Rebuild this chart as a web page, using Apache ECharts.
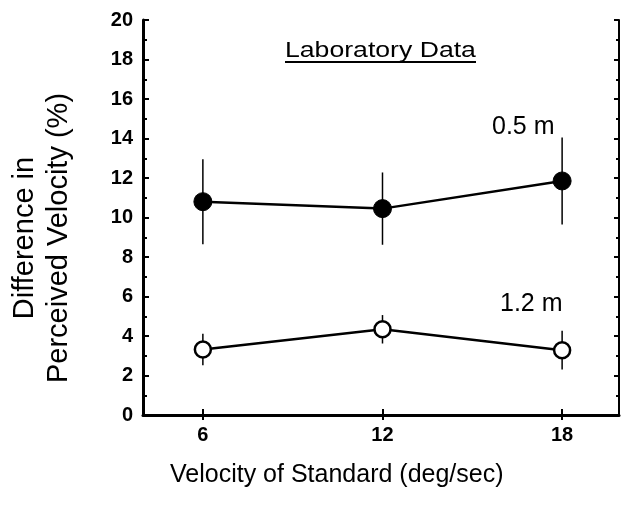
<!DOCTYPE html>
<html>
<head>
<meta charset="utf-8">
<script src="https://cdn.jsdelivr.net/npm/echarts@6/dist/echarts.min.js"></script>
<style>
    html, body { margin: 0; padding: 0; background: #fff; }
    #main { width: 621px; height: 506px; }
</style>
</head>
<body>
<div id="main"></div>
<script>
// values
const velocities = [6, 12, 18]
const near05 = [10.8, 10.45, 11.85]
const near05Err = [2.15, 1.83, 2.2]
const far12 = [3.32, 4.34, 3.28]
const far12Err = [0.8, 0.72, 0.98]
const xTicks = [6, 12, 18]

const font = 'Liberation Sans, Arial, sans-serif'

function pairs(xs, ys) {
    return xs.map((x, i) => [x, ys[i]])
}
function errRows(xs, ys, es) {
    return xs.map((x, i) => [x, ys[i] - es[i], ys[i] + es[i]])
}

function errorBars(rows) {
    return {
        type: 'custom',
        xAxisIndex: 0,
        yAxisIndex: 0,
        z: 1,
        silent: true,
        data: rows,
        renderItem: function (params, api) {
            const lo = api.coord([api.value(0), api.value(1)])
            const hi = api.coord([api.value(0), api.value(2)])
            return {
                type: 'line',
                shape: { x1: lo[0], y1: lo[1], x2: hi[0], y2: hi[1] },
                style: { stroke: '#000', lineWidth: 1.5 }
            }
        }
    }
}

let myChart = echarts.init(document.getElementById('main'))
let option = {
    animation: false,
    backgroundColor: '#fff',
    grid: { left: 143, top: 20, right: 2, bottom: 91 },
    xAxis: [
        {
            type: 'value',
            min: 4,
            max: 19.9,
            axisLine: { lineStyle: { color: '#000', width: 3 } },
            axisTick: { show: true, inside: true, length: 6, customValues: xTicks, lineStyle: { color: '#000', width: 2 } },
            axisLabel: { customValues: xTicks, margin: 10, color: '#000', fontSize: 20, fontWeight: 'bold', fontFamily: font },
            splitLine: { show: false }
        },
        {
            type: 'value',
            position: 'top',
            min: 4,
            max: 19.9,
            axisLine: { show: true, lineStyle: { color: '#000', width: 2 } },
            axisTick: { show: true, inside: true, length: 5, customValues: xTicks, lineStyle: { color: '#000', width: 2 } },
            axisLabel: { show: false },
            splitLine: { show: false }
        }
    ],
    yAxis: [
        {
            type: 'value',
            min: 0,
            max: 20,
            interval: 2,
            axisLine: { show: true, lineStyle: { color: '#000', width: 3 } },
            axisTick: { show: true, inside: true, length: 6, lineStyle: { color: '#000', width: 2 } },
            minorTick: { show: true, splitNumber: 2, length: 4, lineStyle: { color: '#000', width: 2 } },
            axisLabel: { margin: 10, color: '#000', fontSize: 20, fontWeight: 'bold', fontFamily: font },
            splitLine: { show: false }
        },
        {
            type: 'value',
            position: 'right',
            min: 0,
            max: 20,
            interval: 2,
            axisLine: { show: true, lineStyle: { color: '#000', width: 2 } },
            axisTick: { show: true, inside: true, length: 5, lineStyle: { color: '#000', width: 2 } },
            minorTick: { show: true, splitNumber: 2, length: 3, lineStyle: { color: '#000', width: 2 } },
            axisLabel: { show: false },
            splitLine: { show: false }
        }
    ],
    series: [
        errorBars(errRows(velocities, near05, near05Err)),
        errorBars(errRows(velocities, far12, far12Err)),
        {
            name: '0.5 m',
            type: 'line',
            z: 3,
            data: pairs(velocities, near05),
            symbol: 'circle',
            symbolSize: 18,
            lineStyle: { color: '#000', width: 2.5 },
            itemStyle: { color: '#000', borderColor: '#000', borderWidth: 1 }
        },
        {
            name: '1.2 m',
            type: 'line',
            z: 3,
            data: pairs(velocities, far12),
            symbol: 'circle',
            symbolSize: 16,
            lineStyle: { color: '#000', width: 2.5 },
            itemStyle: { color: '#fff', borderColor: '#000', borderWidth: 2.5 }
        }
    ],
    graphic: [
        {
            type: 'text',
            x: 285,
            y: 40,
            scaleX: 1.21,
            style: { text: 'Laboratory Data', fill: '#000', font: '22px ' + font }
        },
        {
            type: 'line',
            shape: { x1: 285, y1: 62, x2: 476, y2: 62 },
            style: { stroke: '#000', lineWidth: 2 }
        },
        {
            type: 'text',
            x: 492,
            y: 115,
            style: { text: '0.5 m', fill: '#000', font: '25px ' + font }
        },
        {
            type: 'text',
            x: 500,
            y: 292,
            style: { text: '1.2 m', fill: '#000', font: '25px ' + font }
        },
        {
            type: 'text',
            x: 170,
            y: 463,
            style: { text: 'Velocity of Standard (deg/sec)', fill: '#000', font: '25px ' + font }
        },
        {
            type: 'text',
            x: 42,
            y: 238,
            rotation: Math.PI / 2,
            style: {
                text: 'Difference in\nPerceived Velocity (%)',
                fill: '#000',
                font: '29px ' + font,
                lineHeight: 34,
                align: 'center',
                verticalAlign: 'middle'
            }
        }
    ]
}
myChart.setOption(option)
</script>
</body>
</html>
